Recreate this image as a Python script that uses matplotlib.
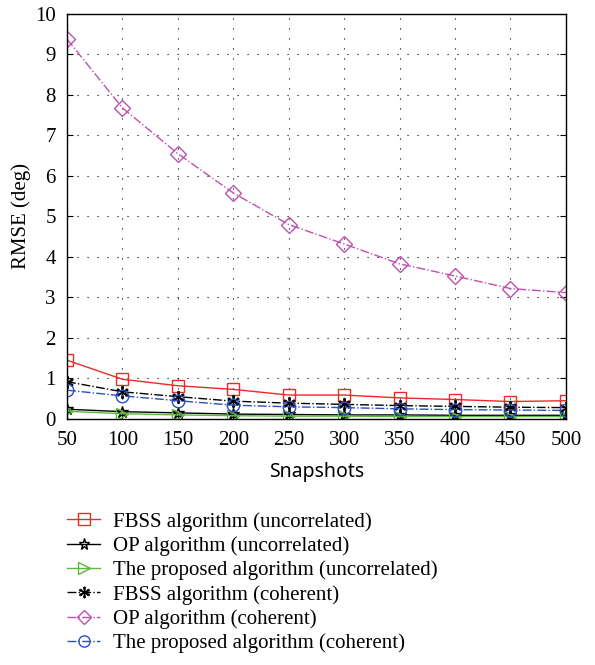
import matplotlib.pyplot as plt

plt.rcParams['font.family'] = ['Liberation Serif', 'DejaVu Serif']
plt.rcParams['mathtext.fontset'] = 'stix'

snapshots = [50, 100, 150, 200, 250, 300, 350, 400, 450, 500]

fbss_unc = [1.45, 0.98, 0.82, 0.73, 0.59, 0.59, 0.52, 0.48, 0.43, 0.45]
op_unc = [0.24, 0.18, 0.15, 0.12, 0.11, 0.10, 0.10, 0.09, 0.09, 0.09]
prop_unc = [0.19, 0.13, 0.10, 0.08, 0.07, 0.07, 0.06, 0.06, 0.06, 0.06]
fbss_coh = [0.92, 0.67, 0.55, 0.44, 0.39, 0.36, 0.33, 0.31, 0.29, 0.28]
op_coh = [9.38, 7.68, 6.55, 5.58, 4.80, 4.32, 3.83, 3.53, 3.22, 3.12]
prop_coh = [0.71, 0.57, 0.45, 0.34, 0.30, 0.28, 0.25, 0.23, 0.22, 0.21]

labels = ["FBSS algorithm (uncorrelated)",
          "OP algorithm (uncorrelated)",
          "The proposed algorithm (uncorrelated)",
          "FBSS algorithm (coherent)",
          "OP algorithm (coherent)",
          "The proposed algorithm (coherent)"]

fig = plt.figure(figsize=(5.95, 6.65), dpi=100)
ax = fig.add_axes([0.1126, 0.370, 0.8385, 0.609])

ms = 9
ax.plot(snapshots, fbss_unc, '-', color='#f02828', marker='s', ms=ms,
        mfc='none', mew=1.0, lw=1.0, label=labels[0])
ax.plot(snapshots, op_unc, '-', color='black', marker='*', ms=ms,
        mfc='none', mew=1.0, lw=1.0, label=labels[1])
ax.plot(snapshots, prop_unc, '-', color='#5cb83c', marker='>', ms=ms,
        mfc='none', mew=1.0, lw=1.0, label=labels[2])
ax.plot(snapshots, fbss_coh, '-.', color='black', marker='$\\ast$', ms=ms,
        mew=0.6, lw=1.0, label=labels[3])
ax.plot(snapshots, op_coh, '-.', color='#c050b0', marker='D', ms=8,
        mfc='none', mew=1.0, lw=1.0, label=labels[4])
ax.plot(snapshots, prop_coh, '-.', color='#2850c0', marker='o', ms=ms,
        mfc='none', mew=1.0, lw=1.0, label=labels[5])

ax.set_xlim(50, 500)
ax.set_ylim(0, 10)
ax.set_xticks(snapshots)
ax.set_yticks(range(0, 11))
ax.grid(True, linestyle=(0, (1, 8)), color='black', lw=0.8)
ax.tick_params(direction='in', right=True, labelsize=15, length=4)
ax.tick_params(axis='x', pad=9)
ax.tick_params(axis='y', pad=8)
for s in ax.spines.values():
    s.set_linewidth(1.0)
ax.set_xlabel("Snapshots", fontsize=14, family=['Noto Sans', 'DejaVu Sans'], labelpad=8)
ax.set_ylabel("RMSE (deg)", fontsize=15, labelpad=3)

fig.legend(loc='upper left', bbox_to_anchor=(0.095, 0.246), frameon=False,
           fontsize=15, handlelength=1.6, labelspacing=0.22, handletextpad=0.6,
           borderpad=0, markerscale=0.9)

fig.savefig('out.png', dpi=100)
